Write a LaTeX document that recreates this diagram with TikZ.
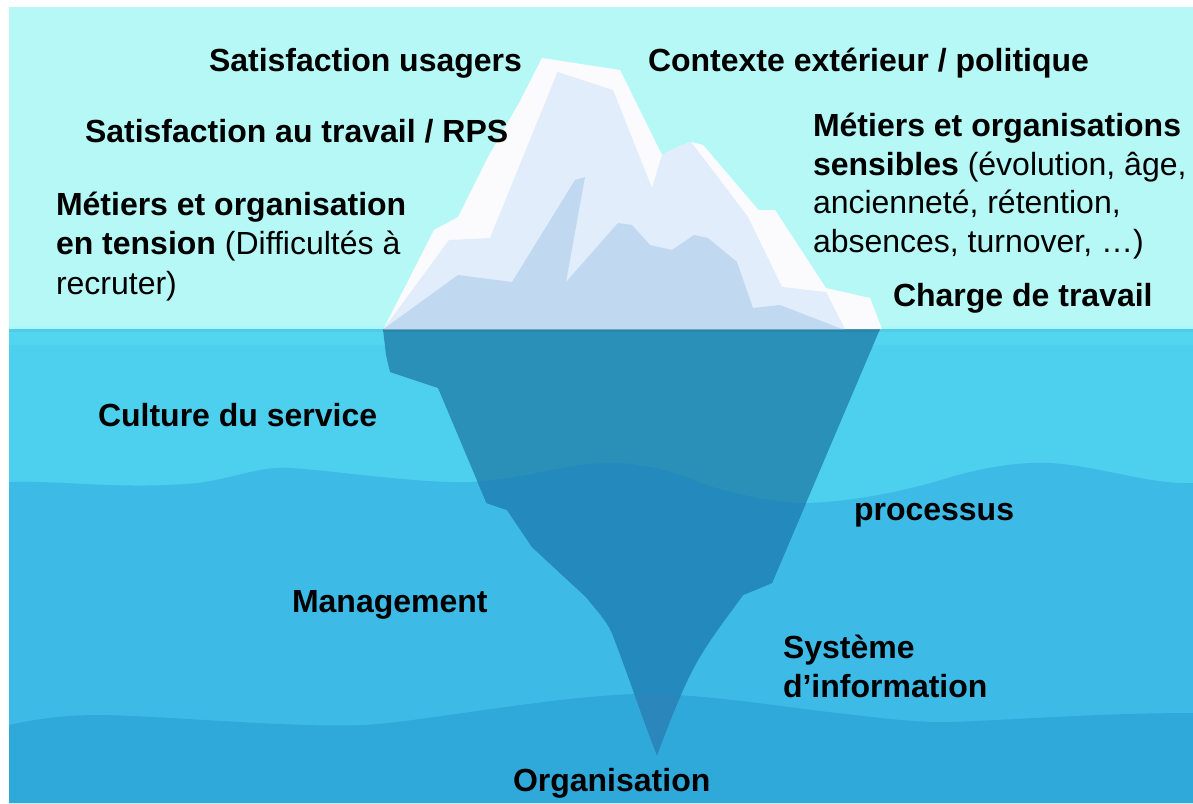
\documentclass[tikz,border=0pt]{standalone}
\usepackage{fontspec}
\setmainfont{Liberation Sans}
\definecolor{sky}{HTML}{B5F8F6}
\definecolor{skyedge}{HTML}{A8F8FA}
\definecolor{seaA}{HTML}{4DCFEE}
\definecolor{seaB}{HTML}{3DBBE6}
\definecolor{seaC}{HTML}{2FA8DA}
\definecolor{band}{HTML}{52D6F0}
\definecolor{bandtop}{HTML}{54CBE4}
\definecolor{iceW}{HTML}{FBFBFE}
\definecolor{iceM}{HTML}{E1EDFA}
\definecolor{iceD}{HTML}{C0D9F0}
\definecolor{subA}{HTML}{2A90B8}
\definecolor{subT}{HTML}{2A86A8}
\definecolor{subB}{HTML}{2489BD}
\definecolor{subC}{HTML}{2B87BB}
\tikzset{
  lbl/.style={inner sep=0pt,outer sep=0pt,anchor=base west,align=left,font=\fontsize{32}{38.7}\selectfont},
  lblwide/.style={lbl,font=\fontsize{32}{39.5}\selectfont},
}
\begin{document}
\begin{tikzpicture}[x=1pt,y=-1pt]
\useasboundingbox (0,0) rectangle (1193,803);
% sky and sea
\fill[sky] (9,7) rectangle (1193,330);
\fill[skyedge] (9,326) rectangle (1193,329);
\fill[seaA] (9,329) rectangle (1193,803);
\fill[band] (9,329) rectangle (1193,345);
\fill[bandtop] (9,329) rectangle (1193,331.5);
\def\waveA{(9,482) .. controls (60,480) and (120,490) .. (198,483) .. controls (235,478) and (260,466) .. (289,468) .. controls (330,470) and (420,484) .. (472,482) .. controls (530,478) and (570,462) .. (616,463) .. controls (670,465) and (700,485) .. (723,490) .. controls (750,497) and (780,503) .. (800,503) .. controls (850,503) and (910,490) .. (951,477) .. controls (990,466) and (1020,462) .. (1050,463) .. controls (1100,466) and (1150,485) .. (1193,483)}
\def\waveB{(9,725) .. controls (40,718) and (70,715) .. (99,715) .. controls (170,716) and (290,728) .. (365,725) .. controls (420,722) and (560,695) .. (640,694) .. controls (700,693) and (790,708) .. (837,713) .. controls (880,718) and (920,723) .. (951,722) .. controls (1010,720) and (1100,713) .. (1193,713)}
\fill[seaB] \waveA -- (1193,803) -- (9,803) -- cycle;
\fill[seaC] \waveB -- (1193,803) -- (9,803) -- cycle;
% submerged part
\begin{scope}
\clip (383,329) -- (386,355) -- (390,372) -- (438,388) -- (486.5,503) -- (507,510) -- (532,547) -- (560,573) -- (586,597) .. controls (598,612) and (606,620) .. (612,633) .. controls (630,680) and (645,725) .. (657,755) .. controls (668,725) and (680,695) .. (691,673) .. controls (705,645) and (725,620) .. (743,595) -- (772,583) -- (880,329) -- cycle;
\fill[subA] (300,320) rectangle (950,800);
\fill[subT] (300,320) rectangle (950,331.5);
\fill[subB] \waveA -- (1193,803) -- (9,803) -- cycle;
\fill[subC] \waveB -- (1193,803) -- (9,803) -- cycle;
\end{scope}
% emerged part
\fill[iceW] (383.5,329) -- (434,230) -- (458,217) -- (488,157) -- (519,103) -- (542,58) -- (620,70) -- (662,155) -- (680,146) -- (691,142) -- (703,145) -- (758.5,210) -- (775,210) -- (826,288) -- (870,298) -- (882,329) -- cycle;
\fill[iceM] (383.5,329) -- (449,240) -- (490,238) -- (557.5,72) -- (613,90) -- (652,188) -- (662,155) -- (680,146) -- (691,142) -- (720,180) -- (748,217) -- (782,287) -- (826,292) -- (845,329) -- cycle;
\fill[iceD] (383.5,329) -- (458,275) -- (512,282) -- (575,180) -- (585,177) -- (566,282) -- (618,223) -- (632,225) -- (650,245) -- (672,250) -- (694,235) -- (708,238) -- (737,262) -- (753,308) -- (780,305) -- (842,329) -- cycle;
% labels
\node[lbl] (usagers) at (209,71) {\textbf{Satisfaction usagers}};
\node[lbl] (contexte) at (648,71) {\textbf{Contexte extérieur / politique}};
\node[lbl] (rps) at (85,142) {\textbf{Satisfaction au travail / RPS}};
\node[lblwide,anchor=north west] (tension) at (56,192) {\textbf{Métiers et organisation}\\\textbf{en tension} (Difficultés à\\recruter)};
\node[lbl,anchor=north west] (sensibles) at (813,113) {\textbf{Métiers et organisations}\\\textbf{sensibles} (évolution, âge,\\ancienneté, rétention,\\absences, turnover, …)};
\node[lbl] (charge) at (893,306) {\textbf{Charge de travail}};
\node[lbl] (culture) at (98,426) {\textbf{Culture du service}};
\node[lbl] (processus) at (854,520) {\textbf{processus}};
\node[lbl] (management) at (292,612) {\textbf{Management}};
\node[lbl,anchor=north west] (si) at (783,635.5) {\textbf{Système}\\\textbf{d’information}};
\node[lbl] (organisation) at (513,791) {\textbf{Organisation}};
\end{tikzpicture}
\end{document}
